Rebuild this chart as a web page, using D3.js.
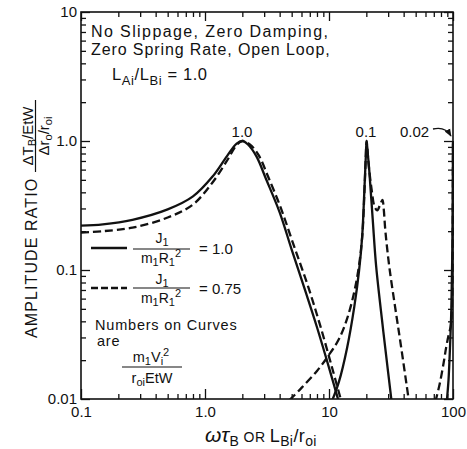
<!DOCTYPE html>
<html><head><meta charset="utf-8">
<script src="https://cdn.jsdelivr.net/npm/d3@7"></script>
<style>
body{margin:0;background:#fff}
svg{display:block}
text{font-family:"Liberation Sans",Arial,Helvetica,sans-serif;fill:#111}
</style>
</head><body>
<svg id="c" width="467" height="449"></svg>
<script>
// ---------- data ----------
const xDomain = [0.1, 100];
const yDomain = [0.01, 10];
const xTickValues = [0.1, 1, 10, 100];
const xTickLabels = ["0.1", "1.0", "10", "100"];
const yTickValues = [0.01, 0.1, 1, 10];
const yTickLabels = ["0.01", "0.1", "1.0", "10"];
const inertiaRatios = ["1.0", "0.75"];          // J1/(m1 R1^2): solid, dashed
const curveParams = ["1.0", "0.1", "0.02"];      // m1 Vi^2 / (roi EtW)

// J1/m1R1^2 = 1.0 (solid)
const solid_p10 = [[0.1,0.221],[0.15,0.226],[0.26,0.245],[0.5,0.295],[0.8,0.372],[1.15,0.53],[1.5,0.76],[1.8,0.955],[2.0,1.0],[2.22,0.94],[2.6,0.76],[3.1,0.51],[4.0,0.28],[5.0,0.144],[6.5,0.067],[8.0,0.036],[10,0.0175],[12,0.0095]];
const solid_p01 = [[10.5,0.0095],[12,0.0135],[14,0.025],[16,0.052],[17.5,0.1],[18.5,0.18],[19.3,0.42],[19.8,0.75],[20.1,1.0],[20.6,0.78],[21.1,0.6],[22.5,0.25],[24,0.107],[27,0.038],[30,0.016],[32,0.0095]];
const solid_p002 = [[89,0.0095],[92,0.014],[95,0.028],[97,0.05],[98.5,0.12],[99.5,0.4],[100,1.0]];
// J1/m1R1^2 = 0.75 (dashed)
const dashed_p10 = [[0.1,0.195],[0.15,0.2],[0.26,0.213],[0.5,0.255],[0.8,0.322],[1.15,0.477],[1.5,0.7],[1.8,0.93],[2.0,1.0],[2.3,0.94],[2.7,0.78],[3.2,0.54],[4.1,0.3],[5.2,0.155],[6.8,0.074],[8.5,0.037],[10.5,0.018],[12.5,0.0098]];
const dashed_p01 = [[4.8,0.0098],[6,0.0122],[8,0.0165],[10,0.022],[12,0.029],[14,0.042],[16,0.068],[17.5,0.11],[18.6,0.19],[19.3,0.4],[19.8,0.75],[20.1,1.0],[20.8,0.68],[22,0.43],[23.3,0.31],[24.5,0.29],[25.8,0.32],[27,0.35],[27.6,0.3],[28.5,0.2],[30.6,0.107],[34,0.053],[38,0.026],[44,0.0098]];
const dashed_p002 = [[72,0.0095],[78,0.013],[84,0.019],[88,0.025],[92,0.031],[96,0.037],[98.5,0.06],[99.5,0.2],[100,1.0]];

// ---------- layout ----------
const plot = {left:81, right:453, top:12, bottom:399};
const ink = "#111";
const svg = d3.select("#c");
const x = d3.scaleLog().domain(xDomain).range([plot.left, plot.right]);
const y = d3.scaleLog().domain(yDomain).range([plot.bottom, plot.top]);

function minors(decades){
  const out=[]; decades.forEach(d=>{for(let k=2;k<=9;k++) out.push(d*k);}); return out;
}
const xMinor = minors([0.1,1,10]);
const yMinor = minors([0.01,0.1,1]);

// axes (ticks inward)
function styleAxis(g){ g.selectAll("path.domain").remove(); g.selectAll("line").attr("stroke",ink).attr("stroke-width",1.3); }
svg.append("g").attr("transform",`translate(0,${plot.bottom})`)
  .call(d3.axisBottom(x).tickValues(xMinor).tickSize(-5).tickFormat(""))
  .call(styleAxis);
svg.append("g").attr("transform",`translate(0,${plot.bottom})`)
  .call(d3.axisBottom(x).tickValues(xTickValues).tickSize(-10).tickPadding(4).tickFormat((d,i)=>xTickLabels[i]))
  .call(styleAxis)
  .call(g=>g.selectAll("text").attr("font-size",15).attr("fill",ink).attr("font-family",null).attr("dy","0.95em"));
svg.append("g").attr("transform",`translate(0,${plot.top})`)
  .call(d3.axisTop(x).tickValues(xMinor).tickSize(-5).tickFormat(""))
  .call(styleAxis);
svg.append("g").attr("transform",`translate(0,${plot.top})`)
  .call(d3.axisTop(x).tickValues(xTickValues).tickSize(-9).tickFormat(""))
  .call(styleAxis);
svg.append("g").attr("transform",`translate(${plot.left},0)`)
  .call(d3.axisLeft(y).tickValues(yMinor).tickSize(-5).tickFormat(""))
  .call(styleAxis);
svg.append("g").attr("transform",`translate(${plot.left},0)`)
  .call(d3.axisLeft(y).tickValues(yTickValues).tickSize(-9).tickPadding(4).tickFormat((d,i)=>yTickLabels[i]))
  .call(styleAxis)
  .call(g=>g.selectAll("text").attr("font-size",15).attr("fill",ink).attr("font-family",null));
svg.append("g").attr("transform",`translate(${plot.right},0)`)
  .call(d3.axisRight(y).tickValues(yMinor).tickSize(-5).tickFormat(""))
  .call(styleAxis);
svg.append("g").attr("transform",`translate(${plot.right},0)`)
  .call(d3.axisRight(y).tickValues(yTickValues).tickSize(-9).tickFormat(""))
  .call(styleAxis);

// frame
svg.append("rect").attr("x",plot.left).attr("y",plot.top)
  .attr("width",plot.right-plot.left).attr("height",plot.bottom-plot.top)
  .attr("fill","none").attr("stroke",ink).attr("stroke-width",1.6);

// curves
svg.append("clipPath").attr("id","clip").append("rect")
  .attr("x",plot.left).attr("y",plot.top).attr("width",plot.right-plot.left+1).attr("height",plot.bottom-plot.top);
const line = d3.line().x(d=>x(d[0])).y(d=>y(d[1])).curve(d3.curveCatmullRom.alpha(0.5));
const series = [
  {data:solid_p10, dashed:false},{data:solid_p01, dashed:false},{data:solid_p002, dashed:false},
  {data:dashed_p10, dashed:true},{data:dashed_p01, dashed:true},{data:dashed_p002, dashed:true}
];
svg.append("g").attr("clip-path","url(#clip)").selectAll("path").data(series).join("path")
  .attr("d",d=>line(d.data)).attr("fill","none").attr("stroke",ink).attr("stroke-width",2.3)
  .attr("stroke-dasharray",d=>d.dashed?"8,4":null).attr("stroke-linejoin","round");

// ---------- text helper ----------
function rich(g, px, py, parts, opts={}){
  const t = g.append("text").attr("x",px).attr("y",py).attr("font-size",opts.size||15)
    .attr("text-anchor",opts.anchor||"start");
  if(opts.ls!=null) t.attr("letter-spacing",opts.ls);
  let cur=0;
  parts.forEach(p=>{
    const [s, shift=0, sz, it] = p;
    const ts = t.append("tspan").text(s).attr("dy",shift-cur);
    cur = shift;
    if(sz) ts.attr("font-size",sz);
    if(it) ts.attr("font-style","italic");
  });
  return t;
}

// header text
rich(svg, 91, 37, [["No Slippage, Zero Damping,"]], {size:16, ls:1.4});
rich(svg, 91, 55, [["Zero Spring Rate, Open Loop,"]], {size:16, ls:0.9});
rich(svg, 112, 80, [["L"],["Ai",5,13],["/L",0],["Bi",5,13],[" = 1.0",0]], {size:16.5, ls:0.6});

// curve labels
rich(svg, 242, 137, [[curveParams[0]]], {size:15, anchor:"middle"});
rich(svg, 366, 137, [[curveParams[1]]], {size:15, anchor:"middle"});
rich(svg, 400, 137, [[curveParams[2]]], {size:15});
svg.append("defs").append("marker").attr("id","ah").attr("viewBox","0 0 10 10")
  .attr("refX",9).attr("refY",5).attr("markerWidth",6).attr("markerHeight",6).attr("orient","auto")
  .append("path").attr("d","M0,1 L10,5 L0,9 Z").attr("fill",ink);
svg.append("path").attr("d","M433,129 Q445,126 451,136").attr("fill","none")
  .attr("stroke",ink).attr("stroke-width",1.3).attr("marker-end","url(#ah)");

// legend
const lg = svg.append("g");
lg.append("line").attr("x1",91).attr("x2",127).attr("y1",248).attr("y2",248).attr("stroke",ink).attr("stroke-width",2.3);
rich(lg, 162, 243, [["J"],["1",3,11]], {size:14, anchor:"middle"});
lg.append("line").attr("x1",133).attr("x2",190).attr("y1",249).attr("y2",249).attr("stroke",ink).attr("stroke-width",1.2);
rich(lg, 161, 263, [["m"],["1",3,11],["R",0],["1",3,11],["2",-6,11]], {size:14, anchor:"middle"});
rich(lg, 199, 254, [["= "+inertiaRatios[0]]], {size:15});

lg.append("line").attr("x1",91).attr("x2",127).attr("y1",288).attr("y2",288).attr("stroke",ink).attr("stroke-width",2.3).attr("stroke-dasharray","7,3");
rich(lg, 162, 284, [["J"],["1",3,11]], {size:14, anchor:"middle"});
lg.append("line").attr("x1",133).attr("x2",190).attr("y1",288).attr("y2",288).attr("stroke",ink).attr("stroke-width",1.2);
rich(lg, 161, 303, [["m"],["1",3,11],["R",0],["1",3,11],["2",-6,11]], {size:14, anchor:"middle"});
rich(lg, 199, 294, [["= "+inertiaRatios[1]]], {size:15});

rich(lg, 95, 330, [["Numbers on Curves"]], {size:14.5, ls:0.8});
rich(lg, 97, 346, [["are"]], {size:14.5, ls:0.8});
rich(lg, 151, 362, [["m"],["1",3,11],["V",0],["i",3,11],["2",-6,11]], {size:14.5, anchor:"middle"});
lg.append("line").attr("x1",122).attr("x2",182).attr("y1",367).attr("y2",367).attr("stroke",ink).attr("stroke-width",1.2);
rich(lg, 152, 383, [["r"],["oi",3,11],["EtW",0]], {size:14.5, anchor:"middle"});

// y-axis title (rotated)
const yl = svg.append("g").attr("transform","rotate(-90)");
rich(yl, -338, 37, [["AMPLITUDE RATIO"]], {size:16, ls:1.1});
rich(yl, -136, 33, [["\u0394T"],["B",3,11],["/EtW",0]], {size:15, anchor:"middle"});
yl.append("line").attr("x1",-172).attr("x2",-100).attr("y1",35.5).attr("y2",35.5).attr("stroke",ink).attr("stroke-width",1.2);
rich(yl, -136, 49, [["\u0394r"],["o",3,11],["/r",0],["oi",3,11]], {size:15, anchor:"middle"});

// x-axis title
rich(svg, 205, 442, [["\u03C9\u03C4",0,21,true],["B",4,14],[" OR ",0,14],["L",0,18],["Bi",4,14],["/r",0,18],["oi",4,14]], {size:15, ls:0.4});
</script>
</body></html>
